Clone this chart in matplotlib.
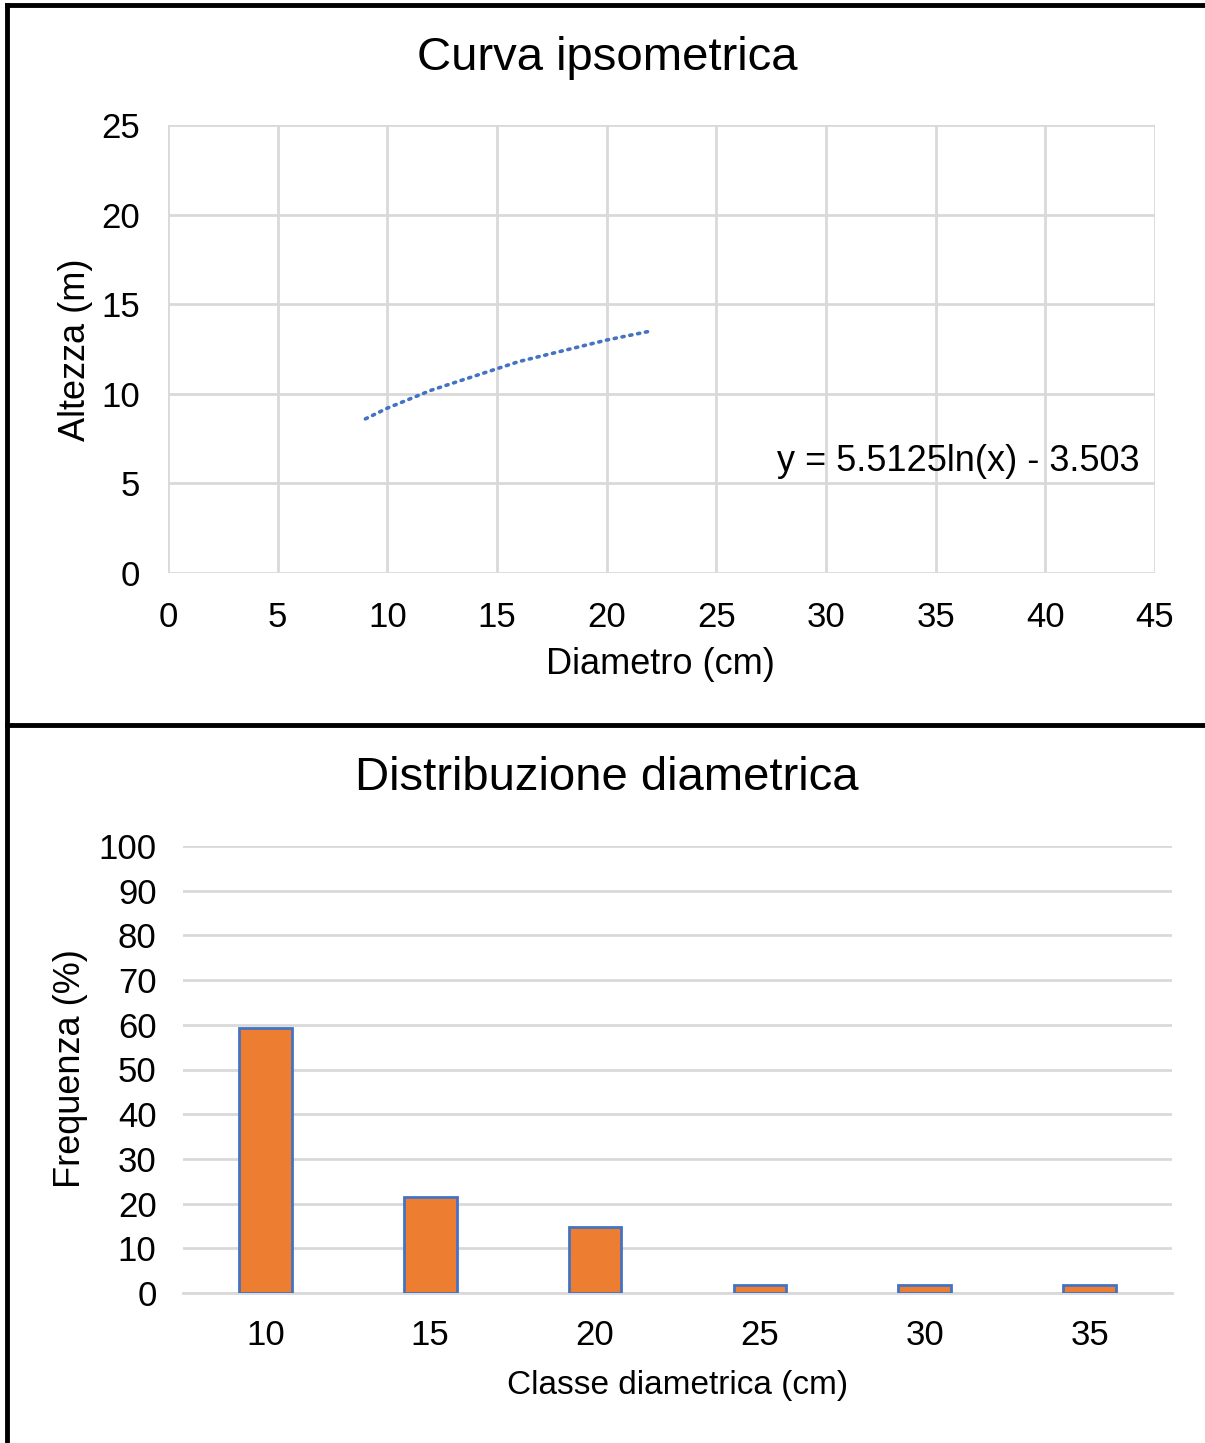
import matplotlib.pyplot as plt
from matplotlib.lines import Line2D

# top chart: trend line
diam = [9, 10, 12, 14, 16, 18, 20, 22]
altezza = [8.6, 9.2, 10.2, 11.0, 11.8, 12.4, 13.0, 13.5]
equazione = "y = 5.5125ln(x) - 3.503"

# bottom chart: diametric classes
classi = ["10", "15", "20", "25", "30", "35"]
frequenza = [59.2, 21.4, 14.8, 1.8, 1.8, 1.8]

plt.rcParams['font.family'] = ['Liberation Sans', 'DejaVu Sans']
grid_col = '#d9d9d9'

fig = plt.figure(figsize=(12.05, 14.43), dpi=100)
W, H = 1205, 1443

def ax_px(l, t, r, b):
    return fig.add_axes([l / W, 1 - b / H, (r - l) / W, (b - t) / H])

# ---- Curva ipsometrica
ax1 = ax_px(168, 125, 1155, 573)
ax1.plot(diam, altezza, color='#4472C4', lw=2.6, linestyle=(0, (0.6, 1.6)),
         dash_capstyle='round')
ax1.set_xlim(0, 45)
ax1.set_ylim(0, 25)
ax1.set_xticks(range(0, 46, 5))
ax1.set_yticks(range(0, 26, 5))
ax1.grid(True, color=grid_col, lw=2)
ax1.set_axisbelow(True)
for s in ax1.spines.values():
    s.set_visible(False)
ax1.tick_params(length=0, labelsize=25, pad=20)
ax1.set_xlabel("Diametro (cm)", fontsize=26, va='center')
ax1.set_ylabel("Altezza (m)", fontsize=26, va='center')
ax1.xaxis.set_label_coords(0.4985, -0.205)
ax1.yaxis.set_label_coords(-0.094, 0.498)
ax1.text(44.3, 6.2, equazione, fontsize=26, ha='right', va='center')
fig.text(607 / W, 1 - 58 / H, "Curva ipsometrica", fontsize=34,
         ha='center', va='center')

# ---- Distribuzione diametrica
ax2 = ax_px(183, 846, 1172, 1293)
x = range(len(classi))
ax2.bar(x, frequenza, width=0.32, color='#ED7D31', edgecolor='#4472C4',
        linewidth=2, zorder=3)
ax2.set_xlim(-0.5, len(classi) - 0.5)
ax2.set_ylim(0, 100)
ax2.set_yticks(range(0, 101, 10))
ax2.set_xticks(list(x))
ax2.set_xticklabels(classi)
ax2.yaxis.grid(True, color=grid_col, lw=2)
ax2.set_axisbelow(True)
for s in ['top', 'right', 'left']:
    ax2.spines[s].set_visible(False)
ax2.spines['bottom'].set_color(grid_col)
ax2.spines['bottom'].set_linewidth(2)
ax2.tick_params(length=0, labelsize=25, pad=19)
ax2.set_xlabel("Classe diametrica (cm)", fontsize=24, va='center')
ax2.set_ylabel("Frequenza (%)", fontsize=26, va='center')
ax2.xaxis.set_label_coords(0.5005, -0.206)
ax2.yaxis.set_label_coords(-0.114, 0.503)
fig.text(607 / W, 1 - 778 / H, "Distribuzione diametrica", fontsize=34,
         ha='center', va='center')

# panel borders
for xs, ys in [([7 / W, 1], [1 - 4.5 / H] * 2),
               ([7 / W] * 2, [0, 1 - 4.5 / H]),
               ([7 / W, 1], [1 - 725 / H] * 2)]:
    fig.add_artist(Line2D(xs, ys, color='black', lw=3.5,
                          transform=fig.transFigure))

fig.savefig('out.png', dpi=100, facecolor='white')
